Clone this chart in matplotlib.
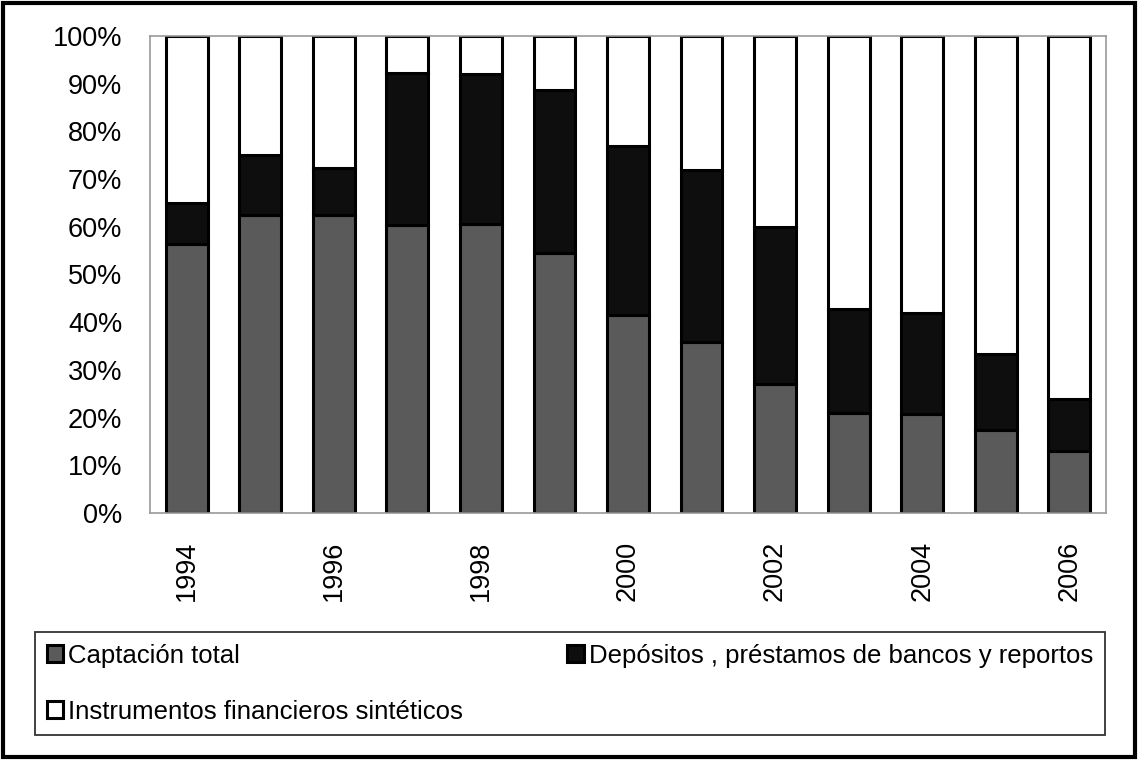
import matplotlib.pyplot as plt
from matplotlib.patches import Rectangle
from matplotlib.ticker import FuncFormatter

plt.rcParams['font.family'] = ['Liberation Sans', 'DejaVu Sans']

years = list(range(1994, 2007))
captacion = [56.3, 62.5, 62.4, 60.4, 60.6, 54.6, 41.5, 35.8, 27.0, 21.0, 20.8, 17.4, 13.1]
depositos = [8.6, 12.5, 10.0, 31.9, 31.4, 34.1, 35.4, 36.1, 32.9, 21.8, 21.2, 15.9, 10.9]
sinteticos = [100 - c - d for c, d in zip(captacion, depositos)]

labels = ['Captación total',
          'Depósitos , préstamos de bancos y reportos',
          'Instrumentos financieros sintéticos']
colors = ['#5a5a5a', '#0e0e0e', '#ffffff']

fig = plt.figure(figsize=(11.38, 7.6), dpi=100)
ax = fig.add_axes([150 / 1138, 1 - 513 / 760, 956 / 1138, 477 / 760])

x = range(len(years))
bottom = [0] * len(years)
bars = []
for vals, col, lab in zip([captacion, depositos, sinteticos], colors, labels):
    b = ax.bar(x, vals, width=0.57, bottom=bottom, color=col,
               edgecolor='black', linewidth=2.2, label=lab)
    bars.append(b)
    bottom = [a + v for a, v in zip(bottom, vals)]

ax.set_xlim(-0.5, len(years) - 0.5)
ax.set_ylim(0, 100)
ax.set_yticks(range(0, 101, 10))
ax.yaxis.set_major_formatter(FuncFormatter(lambda v, p: f'{int(v)}%'))
ax.set_xticks([i for i, y in enumerate(years) if y % 2 == 0])
ax.set_xticklabels([str(y) for y in years if y % 2 == 0], rotation=90)
ax.tick_params(axis='both', length=0, labelsize=19.5)
ax.tick_params(axis='y', pad=20)
ax.tick_params(axis='x', pad=20)
for s in ax.spines.values():
    s.set_color('#999999')
    s.set_linewidth(1.2)

# legend rows: Captación / Depósitos on first row, Instrumentos below
order = [0, 2, 1]
leg = fig.legend([bars[i] for i in order], [labels[i] for i in order],
                 loc='upper left', ncol=2, mode='expand',
                 bbox_to_anchor=(35 / 1138, 1 - 735 / 760, 1070 / 1138, 103 / 760),
                 frameon=True, fancybox=False, edgecolor='black',
                 prop={'size': 18.5},
                 handlelength=0.65, handleheight=0.65, handletextpad=0.2,
                 borderpad=0.45, labelspacing=1.25, borderaxespad=0)
leg.get_frame().set_linewidth(1.3)

fig.patches.append(Rectangle((0.003, 0.004), 0.994, 0.992, transform=fig.transFigure,
                             fill=False, edgecolor='black', linewidth=3))

fig.savefig('out.png', dpi=100)
